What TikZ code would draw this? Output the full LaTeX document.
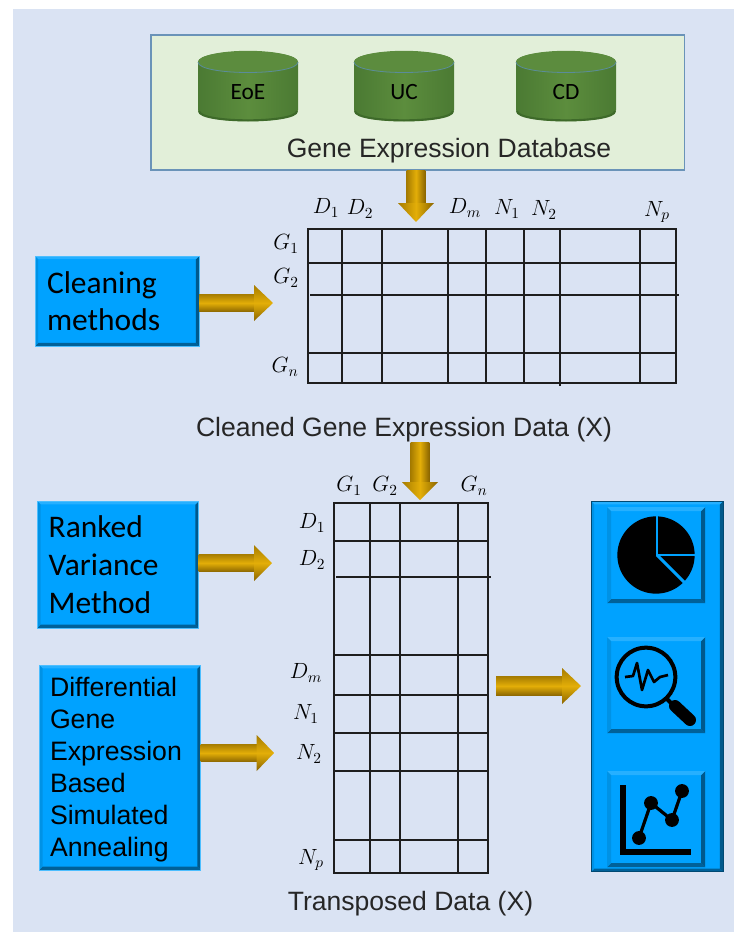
\RequirePackage{fix-cm}
\documentclass[tikz,border=0pt]{standalone}
\usepackage{fontspec}
\setmainfont{Liberation Sans}
\newfontfamily\carlito{Carlito}
\usetikzlibrary{calc}
\definecolor{panelbg}{HTML}{DAE3F3}
\definecolor{dbfill}{HTML}{E2EFD9}
\definecolor{dbedge}{HTML}{6A93B8}
\definecolor{bluebox}{HTML}{00A2FF}
\definecolor{gridink}{HTML}{1E1E1E}
\definecolor{golddark}{HTML}{A67C00}
\definecolor{goldmid}{HTML}{E3AE08}
\definecolor{goldlow}{HTML}{8A6500}
\definecolor{candark}{HTML}{3E6A2A}
\definecolor{canedge}{HTML}{4B7A33}
\definecolor{canmid}{HTML}{5C8D3D}
\definecolor{cantop}{HTML}{5C8C3E}
\definecolor{canrim}{HTML}{5A8C9A}
\tikzset{
  x=0.75pt,y=-0.75pt,
  bevel/.style={path picture={
    \coordinate (bsw) at (path picture bounding box.south west);
    \coordinate (bse) at (path picture bounding box.south east);
    \coordinate (bnw) at (path picture bounding box.north west);
    \coordinate (bne) at (path picture bounding box.north east);
    \fill[bevelbot] (bsw)--(bse)--([shift={(-#1,#1)}]bse)--([shift={(#1,#1)}]bsw)--cycle;
    \fill[bevelright] (bse)--(bne)--([shift={(-#1,-#1)}]bne)--([shift={(-#1,#1)}]bse)--cycle;
    \fill[beveltop] (bnw)--(bne)--([shift={(-#1,-#1)}]bne)--([shift={(#1,-#1)}]bnw)--cycle;
    \fill[bevelleft] (bnw)--(bsw)--([shift={(#1,#1)}]bsw)--([shift={(#1,-#1)}]bnw)--cycle;
  }},
  bevelbot/.style={fill=bluebox!60!black},
  bevelright/.style={fill=bluebox!55!black},
  beveltop/.style={fill=bluebox!85!white},
  bevelleft/.style={fill=bluebox!90!black},
  bluecard/.style={rectangle,fill=bluebox,draw=bluebox!70!white,line width=0.5pt,outer sep=0pt,
    inner ysep=0pt,align=left,text=black,bevel=2.4pt},
  iconbtn/.style={rectangle,fill=bluebox,outer sep=0pt,minimum width=73.5pt,minimum height=72pt,
    inner sep=0pt,bevel=3pt},
  gridline/.style={draw=gridink,line width=1.2pt},
  mlab/.style={inner sep=0pt,font=\fontsize{16.5}{19}\selectfont,text=black},
  caption/.style={inner sep=0pt,font=\fontsize{19.9}{23}\selectfont,text=black!85},
  canlabel/.style={inner sep=0pt,font=\carlito\fontsize{17.5}{20}\selectfont,text=black},
  shafth/.style={top color=golddark,bottom color=goldlow,middle color=goldmid},
  shaftv/.style={left color=golddark,right color=goldlow,middle color=goldmid},
}
% horizontal block arrow: start, tip, half shaft (pt), head length (pt)
\newcommand\goldH[4]{%
  \path[shafth] let \p1=(#1),\p2=(#2) in
    (\x1,\y2+#3)--(\x2-#4+0.3pt,\y2+#3)--(\x2-#4+0.3pt,\y2-#3)--(\x1,\y2-#3)--cycle;
  \path[shafth] let \p2=(#2) in
    (\x2-#4,\y2+13.5pt)--(\x2,\y2)--(\x2-#4,\y2-13.5pt)--cycle;}
% vertical (downward) block arrow
\newcommand\goldV[4]{%
  \path[shaftv] let \p1=(#1),\p2=(#2) in
    (\x2-#3,\y1)--(\x2-#3,\y2+#4-0.3pt)--(\x2+#3,\y2+#4-0.3pt)--(\x2+#3,\y1)--cycle;
  \path[shaftv] let \p2=(#2) in
    (\x2-13.5pt,\y2+#4)--(\x2,\y2)--(\x2+13.5pt,\y2+#4)--cycle;}
% database drum
\newcommand\dbcan[3]{%
  \path[left color=canedge,right color=canedge,middle color=canmid]
    ({#1-50},62)--({#1-50},110) .. controls ({#1-50},125) and ({#1+50},125) .. ({#1+50},110)--({#1+50},62)
    .. controls ({#1+50},48) and ({#1-50},48) .. ({#1-50},62)--cycle;
  \draw[candark,line width=1.6pt] ({#1-49},111) .. controls ({#1-49},123.5) and ({#1+49},123.5) .. ({#1+49},111);
  \fill[cantop] (#1,62) ellipse [x radius=37.5pt,y radius=8.4pt];
  \draw[canrim,line width=0.6pt] ({#1-50},62) .. controls ({#1-50},76) and ({#1+50},76) .. ({#1+50},62);
  \node[canlabel] (#3) at (#1,92) {#2};}
\begin{document}
\begin{tikzpicture}
\useasboundingbox (0,0) rectangle (734,932);
\fill[white] (0,0) rectangle (734,932);
\fill[panelbg] (13,9) rectangle (734,932);

% database panel
\node[rectangle,fill=dbfill,draw=dbedge,line width=1pt,outer sep=0pt,minimum width=400pt,minimum height=101.25pt,inner sep=0pt]
  (db) at (417.5,102.5) {};
\dbcan{248}{EoE}{eoe}
\dbcan{404}{UC}{uc}
\dbcan{566}{CD}{cd}
\node[caption,anchor=base] (dbtitle) at (449,157) {Gene Expression Database};

% cards
\node[bluecard,text width=105pt,inner xsep=9pt,minimum height=67.5pt,font=\carlito\fontsize{23.6}{28}\selectfont]
  (clean) at (117,301) {Cleaning\\methods};
\node[bluecard,text width=104pt,inner xsep=8.5pt,minimum height=95pt,font=\carlito\fontsize{23.6}{28.5}\selectfont]
  (ranked) at (118,564.5) {Ranked\\Variance\\Method};
\node[bluecard,text width=105pt,inner xsep=8pt,minimum height=153.5pt,font=\fontsize{20}{24}\selectfont]
  (dgesa) at (120,767.5) {\rule{0pt}{18pt}Differential\\Gene\\Expression\\Based\\Simulated\\Annealing};

% results panel
\node[rectangle,fill=bluebox,draw=black!55!bluebox,line width=0.6pt,outer sep=0pt,minimum width=99pt,minimum height=278pt,inner sep=0pt,bevel=2.4pt]
  (results) at (657,686.5) {};
\node[iconbtn] (btnpie) at (656,555) {};
\node[iconbtn] (btnscope) at (656,685) {};
\node[iconbtn] (btnchart) at (656,819) {};

% pie icon
\fill[black] (656,555) circle (29pt);
\draw[bluebox,line width=2.2pt] (657,515)--(657,555)--(696,555);
\draw[bluebox,line width=2.2pt] (657,555)--(686,584);

% magnifier icon
\draw[black,line width=3pt] (646,677) circle (22pt);
\draw[black,line width=3pt] (667,699)--(674,706);
\draw[black,line width=9pt,line cap=round] (675,706)--(690,720);
\draw[black,line width=2pt,line join=round] (625,677)--(633,676)--(637,663)--(642,690)--(648,670)--(654,682)--(660,677)--(668,675);

% chart icon
\draw[black,line width=3.8pt] (623,785)--(623,852)--(691,852);
\draw[black,line width=2.4pt] (639,838)--(651,803)--(672,820)--(682,791);
\fill[black] (639,838) circle (5.2pt) (651,803) circle (5.2pt) (672,820) circle (5.2pt) (682,791) circle (5.2pt);

% first matrix
\draw[gridline] (308,229) rectangle (676,383);
\foreach \xx in {342,382,448,486,524,640} \draw[gridline] (\xx,229)--(\xx,383);
\draw[gridline] (560,229)--(560,386);
\foreach \yy in {263,353} \draw[gridline] (308,\yy)--(676,\yy);
\draw[gridline] (310,295)--(679,295);

% second matrix
\draw[gridline] (334,503) rectangle (488,873);
\foreach \xx in {370,400,458} \draw[gridline] (\xx,503)--(\xx,873);
\foreach \yy in {541,655,695,733,771,840} \draw[gridline] (334,\yy)--(488,\yy);
\draw[gridline] (336,577)--(491,577);

% labels of first matrix
\node[mlab] (a1) at (326,208) {$D_1$};
\node[mlab] (a2) at (360,209) {$D_2$};
\node[mlab] (a3) at (465,208) {$D_m$};
\node[mlab] (a4) at (507,209) {$N_1$};
\node[mlab] (a5) at (544,210) {$N_2$};
\node[mlab] (a6) at (657,212) {$N_p$};
\node[mlab] (b1) at (286,244) {$G_1$};
\node[mlab] (b2) at (286,278) {$G_2$};
\node[mlab] (b3) at (285,367) {$G_n$};
% labels of second matrix
\node[mlab] (c1) at (349,486) {$G_1$};
\node[mlab] (c2) at (385,486) {$G_2$};
\node[mlab] (c3) at (474,486) {$G_n$};
\node[mlab] (d1) at (312,523) {$D_1$};
\node[mlab] (d2) at (312,560) {$D_2$};
\node[mlab] (d3) at (306,673) {$D_m$};
\node[mlab] (d4) at (306,714) {$N_1$};
\node[mlab] (d5) at (309,754) {$N_2$};
\node[mlab] (d6) at (311,860) {$N_p$};

\node[caption,anchor=base] (capA) at (404,436) {Cleaned Gene Expression Data (X)};
\node[caption,anchor=base] (capB) at (410.5,910) {Transposed Data (X)};

% arrows
\coordinate (tipA) at (416,222);
\coordinate (tipB) at (273,303);
\coordinate (startC) at (420,442);
\coordinate (tipC) at (420,500);
\coordinate (tipD) at (272,563);
\coordinate (tipE) at (274,753);
\coordinate (startF) at (496,686);
\coordinate (tipF) at (581,686);
\goldV{db.south}{tipA}{7pt}{14.25pt}
\goldH{clean.east}{tipB}{6.7pt}{14.25pt}
\goldV{startC}{tipC}{7pt}{13.5pt}
\goldH{ranked.east}{tipD}{6.7pt}{13.5pt}
\goldH{dgesa.east}{tipE}{6.7pt}{13pt}
\goldH{startF}{tipF}{7.2pt}{14.25pt}
\end{tikzpicture}
\end{document}
